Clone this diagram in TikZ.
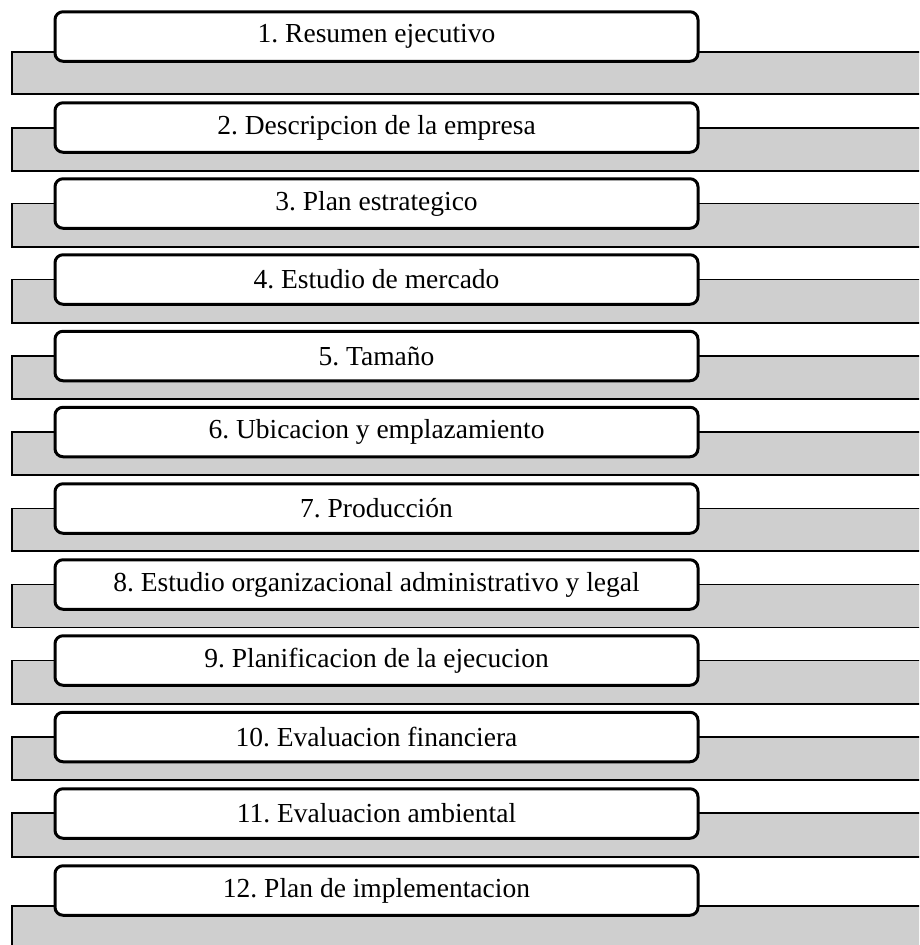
\documentclass[tikz,border=0pt]{standalone}
\usepackage{fontspec}
\setmainfont{Liberation Serif}
\frenchspacing
\begin{document}
\begin{tikzpicture}[x=1pt,y=-1pt,
    band/.style={draw=black, fill=bandgray, line width=1.5pt},
    item/.style={draw=black, fill=white, line width=3pt, rounded corners=8pt,
        minimum width=643pt, minimum height=49.5pt, inner sep=0pt,
        font=\fontsize{27.5}{30}\selectfont}]
        \definecolor{bandgray}{RGB}{207,207,207}
        \clip (0,0) rectangle (919,945);

        % gray bands
        \draw[band] (12,52) rectangle (930,94);
        \draw[band] (12,128) rectangle (930,171);
        \draw[band] (12,203.5) rectangle (930,247);
        \draw[band] (12,279.5) rectangle (930,323);
        \draw[band] (12,356) rectangle (930,399);
        \draw[band] (12,432) rectangle (930,475);
        \draw[band] (12,508.5) rectangle (930,551);
        \draw[band] (12,584.5) rectangle (930,627.5);
        \draw[band] (12,660.5) rectangle (930,704);
        \draw[band] (12,737) rectangle (930,780);
        \draw[band] (12,813) rectangle (930,857);
        \draw[band] (12,906) rectangle (930,960);

        % items
        \node[item] (resumen) at (376.5,36.5) {1. Resumen ejecutivo};
        \node[item] (empresa) at (376.5,127.5) {2. Descripcion de la empresa};
        \node[item] (plan) at (376.5,203.5) {3. Plan estrategico};
        \node[item] (mercado) at (376.5,279.5) {4. Estudio de mercado};
        \node[item] (tamano) at (376.5,356) {5. Tamaño};
        \node[item] (ubicacion) at (376.5,432) {6. Ubicacion y emplazamiento};
        \node[item] (produccion) at (376.5,508.5) {7. Producción};
        \node[item] (organizacional) at (376.5,584.5) {8. Estudio organizacional administrativo y legal};
        \node[item] (ejecucion) at (376.5,660.5) {9. Planificacion de la ejecucion};
        \node[item] (financiera) at (376.5,737) {10. Evaluacion financiera};
        \node[item] (ambiental) at (376.5,813.5) {11. Evaluacion ambiental};
        \node[item] (implementacion) at (376.5,890.5) {12. Plan de implementacion};
    \end{tikzpicture}
\end{document}
